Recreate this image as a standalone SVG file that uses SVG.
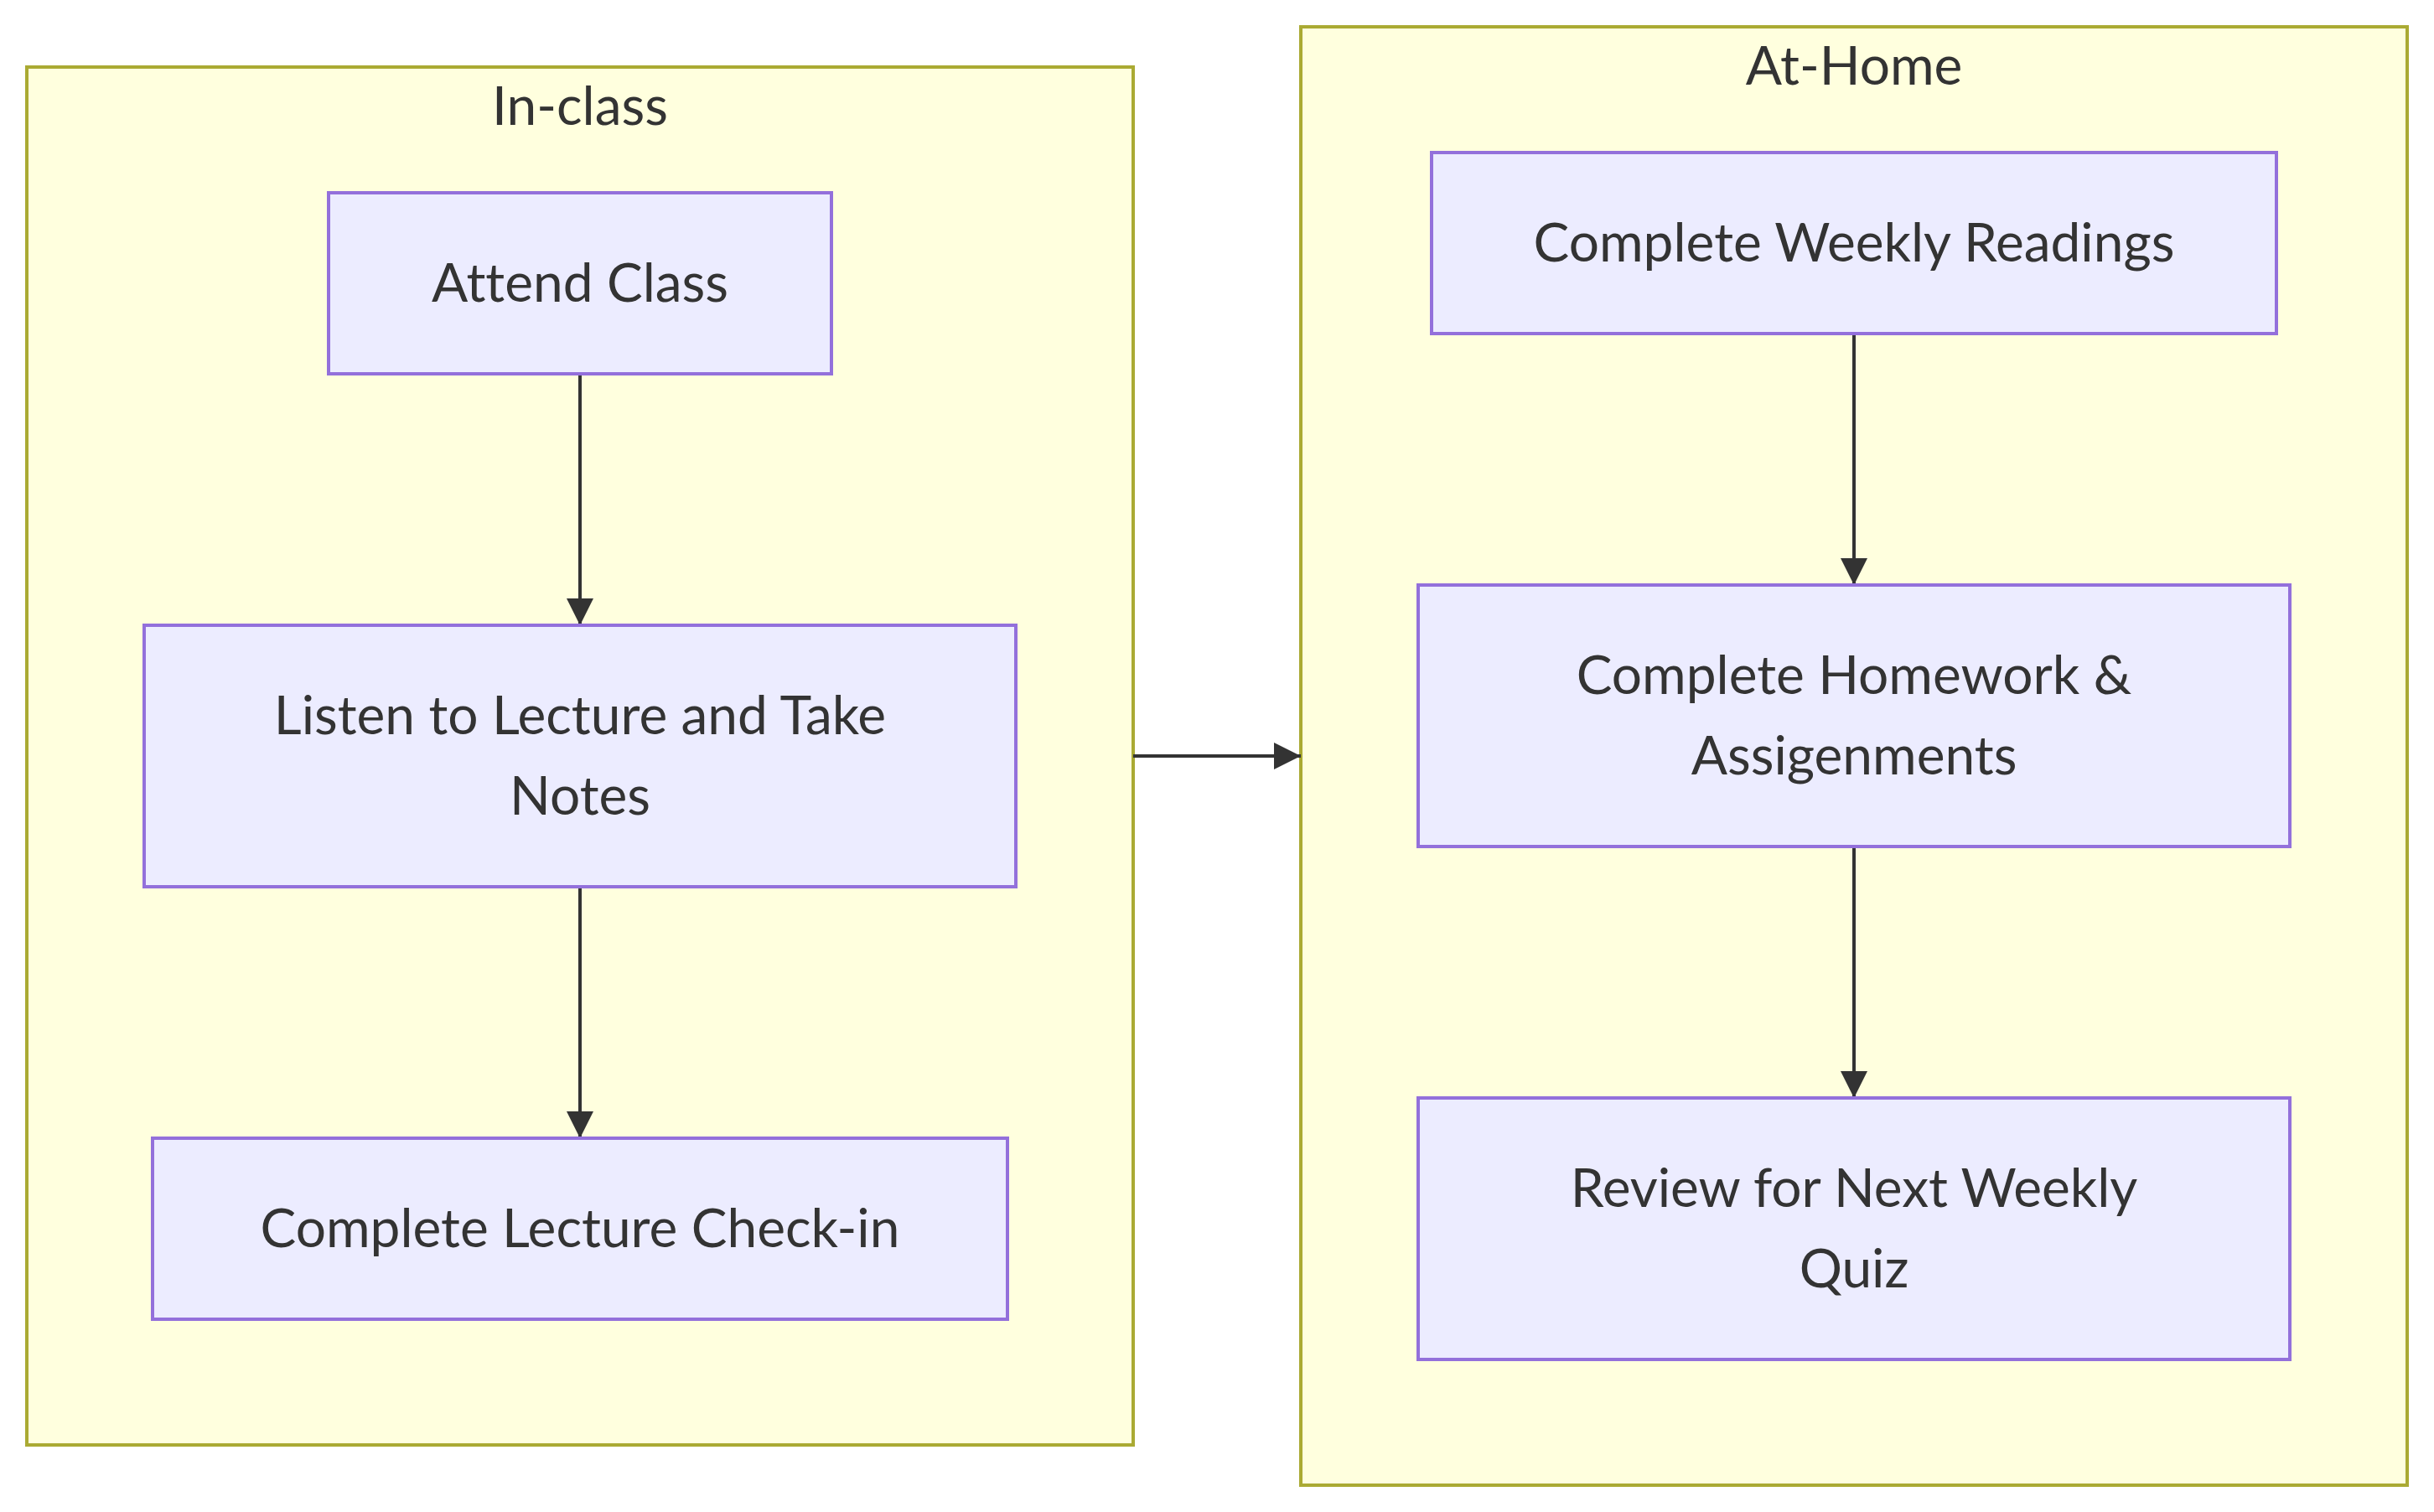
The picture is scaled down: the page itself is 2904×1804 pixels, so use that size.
<svg xmlns="http://www.w3.org/2000/svg" width="2904" height="1804" viewBox="0 0 2904 1804">
<style>
.cluster rect{fill:#ffffde;stroke:#aaaa33;stroke-width:1}
.node rect{fill:#ececff;stroke:#9370db;stroke-width:1}
text{font-family:Lato,"Liberation Sans","DejaVu Sans",sans-serif;font-size:16px;fill:#333333;text-anchor:middle;font-variant-ligatures:none;font-feature-settings:"liga" 0}
.edges path{stroke:#333333;stroke-width:1;fill:none}
</style>
<defs>
<marker id="arrow" viewBox="0 0 10 10" refX="10" refY="5" markerWidth="8" markerHeight="8" markerUnits="userSpaceOnUse" orient="auto">
<path d="M0,0 L10,5 L0,10 z" fill="#333333"/>
</marker>
</defs>
<rect width="2904" height="1804" fill="#ffffff"/>
<g transform="scale(4)">
<g id="cluster-inclass" class="cluster">
<rect x="8" y="20" width="330" height="411"/>
<text x="173" y="37.3">In-class</text>
</g>
<g id="cluster-athome" class="cluster">
<rect x="388" y="8" width="330" height="435"/>
<text x="553" y="25.3">At-Home</text>
</g>
<g id="edges" class="edges">
<path d="M173,111.5 L173,186.5" marker-end="url(#arrow)"/>
<path d="M173,264.5 L173,339.5" marker-end="url(#arrow)"/>
<path d="M553,99.5 L553,174.5" marker-end="url(#arrow)"/>
<path d="M553,252.5 L553,327.5" marker-end="url(#arrow)"/>
<path d="M338,225.5 L388,225.5" marker-end="url(#arrow)"/>
</g>
<g id="node-attend" class="node">
<rect x="98" y="57.5" width="150" height="54"/>
<text x="173" y="90">Attend Class</text>
</g>
<g id="node-listen" class="node">
<rect x="43" y="186.5" width="260" height="78"/>
<text x="173" y="219">Listen to Lecture and Take</text>
<text x="173" y="243">Notes</text>
</g>
<g id="node-checkin" class="node">
<rect x="45.5" y="339.5" width="255" height="54"/>
<text x="173" y="372">Complete Lecture Check-in</text>
</g>
<g id="node-readings" class="node">
<rect x="427" y="45.5" width="252" height="54"/>
<text x="553" y="78">Complete Weekly Readings</text>
</g>
<g id="node-homework" class="node">
<rect x="423" y="174.5" width="260" height="78"/>
<text x="553" y="207">Complete Homework &amp;</text>
<text x="553" y="231">Assigenments</text>
</g>
<g id="node-review" class="node">
<rect x="423" y="327.5" width="260" height="78"/>
<text x="553" y="360">Review for Next Weekly</text>
<text x="553" y="384">Quiz</text>
</g>
</g>
</svg>
